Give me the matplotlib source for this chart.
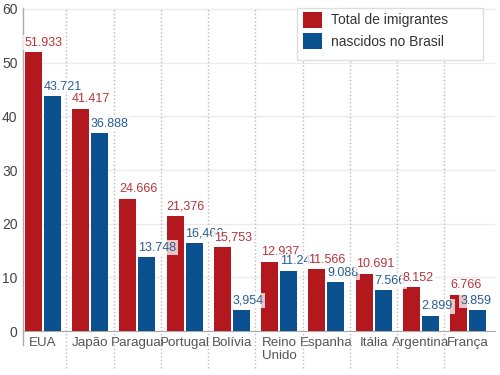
import numpy as np
import matplotlib
matplotlib.use("Agg")
import matplotlib.pyplot as plt
from matplotlib.patches import Rectangle
from matplotlib.transforms import blended_transform_factory

plt.rcParams['font.family'] = ['Liberation Sans', 'DejaVu Sans']

# data (thousands of people)
paises = ['EUA', 'Japão', 'Paraguai', 'Portugal', 'Bolívia', 'Reino\nUnido',
          'Espanha', 'Itália', 'Argentina', 'França']
total = [51.933, 41.417, 24.666, 21.376, 15.753, 12.937, 11.566, 10.691, 8.152, 6.766]
brasil = [43.721, 36.888, 13.748, 16.460, 3.954, 11.247, 9.088, 7.566, 2.899, 3.859]
total_txt = ['51.933', '41.417', '24.666', '21,376', '15,753', '12.937', '11.566',
             '10.691', '8.152', '6.766']
brasil_txt = ['43.721', '36.888', '13.748', '16,460', '3,954', '11.247', '9.088',
              '7.566', '2.899', '3.859']

RED = '#b3181e'
BLUE = '#0b5190'
RED_TXT = '#b8333a'
BLUE_TXT = '#2a5d91'

fig = plt.figure(figsize=(5, 3.75), dpi=100)
ax = fig.add_axes([0.046, 0.117, 0.944, 0.862])

x = np.arange(len(paises))
w = 0.36
ax.bar(x - 0.2, total, w, color=RED, label='Total de imigrantes', zorder=3)
ax.bar(x + 0.2, brasil, w, color=BLUE, label='nascidos no Brasil', zorder=3)

box = dict(boxstyle='square,pad=0.12', fc='white', ec='none', alpha=0.75)
for i in range(len(paises)):
    ax.annotate(total_txt[i], (x[i] - 0.2 - w / 2, total[i]), xytext=(0, 2.5),
                textcoords='offset points', ha='left', va='bottom', fontsize=9,
                color=RED_TXT, bbox=box, zorder=5)
    # last label is pushed left so it stays inside the chart
    dx = -6 if i == len(paises) - 1 else 0
    ax.annotate(brasil_txt[i], (x[i] + 0.2 - w / 2, brasil[i]), xytext=(dx, 2.5),
                textcoords='offset points', ha='left', va='bottom', fontsize=9,
                color=BLUE_TXT, bbox=box, zorder=5)

ax.set_xlim(-0.42, len(paises) - 0.43)
ax.set_ylim(0, 60.2)
ax.set_yticks(range(0, 61, 10))
ax.yaxis.grid(True, color='#ebebeb', linewidth=1)
ax.set_axisbelow(True)

# dotted separators between countries, running down past the axis
trans = blended_transform_factory(ax.transData, ax.transAxes)
for b in np.arange(0.5, len(paises) - 0.5):
    ax.plot([b, b], [-0.115, 1], transform=trans, color='#bbbbbb', linestyle=':',
            linewidth=1, clip_on=False, zorder=1)
ax.plot([-0.42, -0.42], [-0.043, 1], transform=trans, color='#aaaaaa',
        linewidth=1, clip_on=False, zorder=4)

ax.set_xticks(x)
ax.set_xticklabels(paises, fontsize=9.6, color='#555555', multialignment='left')
ax.tick_params(axis='x', length=0, pad=4)
ax.tick_params(axis='y', length=0, pad=4, labelsize=10, labelcolor='#444444')

for s in ['top', 'right', 'left']:
    ax.spines[s].set_visible(False)
ax.spines['bottom'].set_color('#aaaaaa')

# legend frame is wider than its content in the reference
ax.add_patch(Rectangle((0.58, 0.839), 0.395, 0.161, transform=ax.transAxes,
                       fc='white', ec='#dddddd', lw=1, zorder=6, clip_on=False))
leg = ax.legend(loc='upper left', bbox_to_anchor=(0.593, 0.988), borderaxespad=0,
                fontsize=10, handlelength=1.37, handleheight=1.37,
                labelspacing=0.43, handletextpad=0.65, borderpad=0,
                frameon=False)
for t in leg.get_texts():
    t.set_color('#333333')
leg.set_zorder(7)

fig.savefig('out.png', dpi=100)
